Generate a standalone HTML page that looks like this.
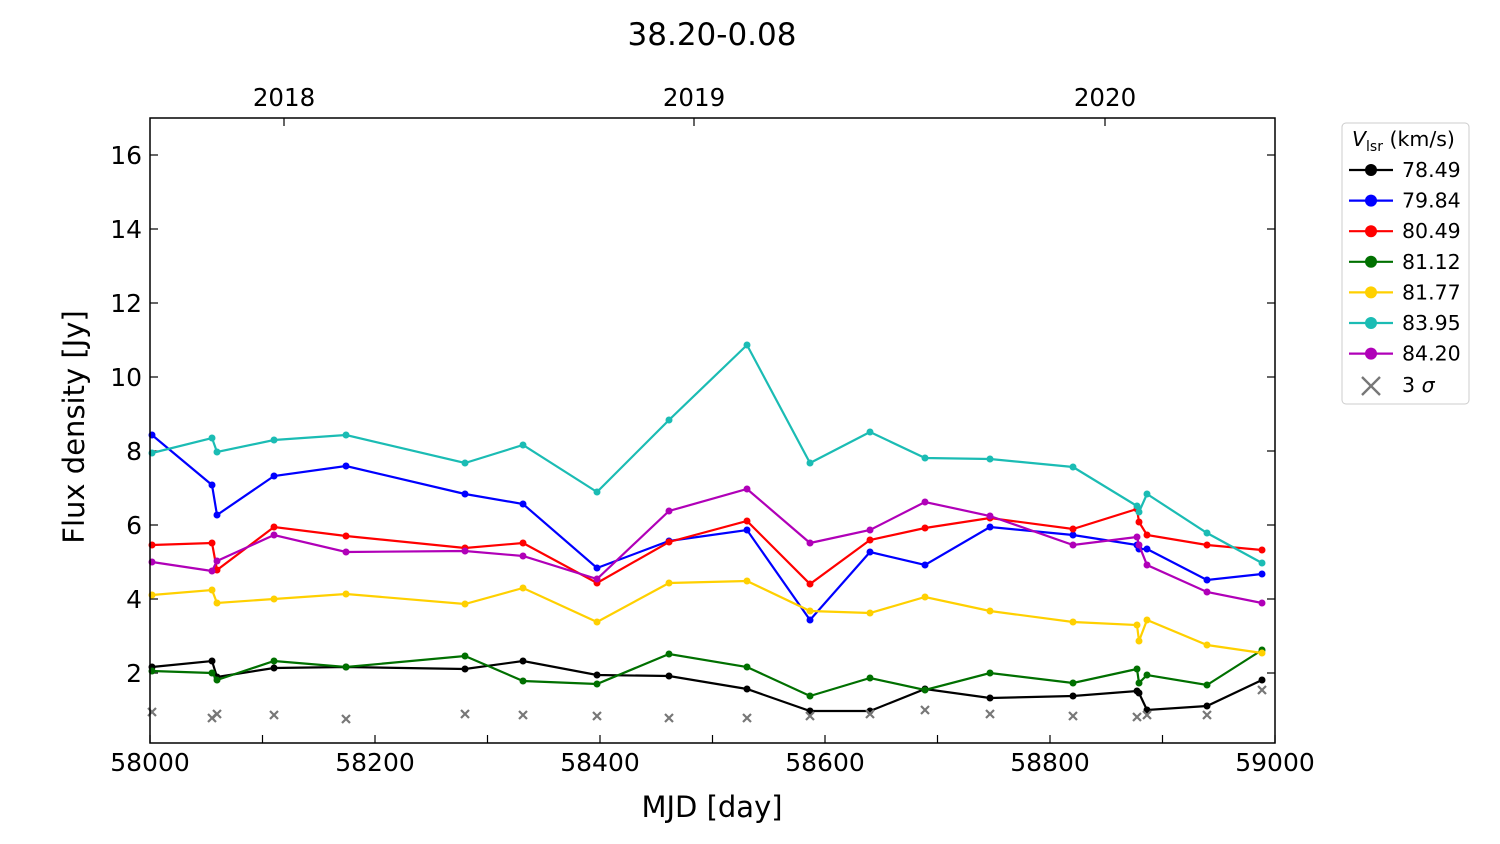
<!DOCTYPE html>
<html><head><meta charset="utf-8"><style>body{margin:0;background:#fff}svg{display:block}text{font-family:"DejaVu Sans","Liberation Sans",sans-serif;fill:#000}</style></head>
<body>
<svg id="s" width="1500" height="844" xmlns="http://www.w3.org/2000/svg">
<text x="712" y="45" font-size="31" text-anchor="middle">38.20-0.08</text>
<g id="ax"></g>
<g id="data" stroke-width="2.2" fill="none"></g>
<rect x="150" y="118" width="1125" height="625" fill="none" stroke="#000" stroke-width="1.5"/>
<text x="712" y="817" font-size="29" text-anchor="middle">MJD [day]</text>
<text transform="translate(84,427) rotate(-90)" font-size="29" text-anchor="middle">Flux density [Jy]</text>
<g font-size="24.5" text-anchor="middle">
<text x="284" y="106">2018</text><text x="694" y="106">2019</text><text x="1105" y="106">2020</text>
</g>
<rect x="1342" y="123" width="127" height="281" rx="4" fill="#fff" stroke="#ccc"/>
<g id="leg" font-size="20.5"></g>
</svg>
<script>
const ns="http://www.w3.org/2000/svg";
function el(p,t,a,txt){const e=document.createElementNS(ns,t);for(const k in a)e.setAttribute(k,a[k]);if(txt)e.textContent=txt;p.appendChild(e);return e;}
const ax=document.getElementById('ax');
for(let v=58000;v<=59000;v+=100){const x=150+(v-58000)*1.125;
el(ax,'line',{x1:x,x2:x,y1:743,y2:735,stroke:'#000','stroke-width':1.2});
if(v%200==0)el(ax,'text',{x:x,y:771,'font-size':25,'text-anchor':'middle'},String(v));}
for(let v=2;v<=16;v+=2){const y=747-v*37;
el(ax,'line',{x1:150,x2:158,y1:y,y2:y,stroke:'#000','stroke-width':1.2});
el(ax,'line',{x1:1275,x2:1267,y1:y,y2:y,stroke:'#000','stroke-width':1.2});
el(ax,'text',{x:142,y:y+9,'font-size':25,'text-anchor':'end'},String(v));}
[284,694,1105].forEach(x=>el(ax,'line',{x1:x,x2:x,y1:118,y2:126,stroke:'#000','stroke-width':1.2}));
const X=[152,212,217,274,346,465,523,597,669,747,810,870,925,990,1073,1137,1139,1147,1207,1262];
const S=[
['#000',[667,661,677,668,667,669,661,675,676,689,711,711,689,698,696,691,693,710,706,680],'78.49'],
['#00f',[435,485,515,476,466,494,504,568,541,530,620,552,565,527,535,545,549,549,580,574],'79.84'],
['#f00',[545,543,570,527,536,548,543,583,542,521,584,540,528,518,529,509,522,535,545,550],'80.49'],
['#007000',[671,673,680,661,667,656,681,684,654,667,696,678,690,673,683,669,683,675,685,650],'81.12'],
['#ffd000',[595,590,603,599,594,604,588,622,583,581,611,613,597,611,622,625,641,620,645,653],'81.77'],
['#1bbcb4',[453,438,452,440,435,463,445,492,420,345,463,432,458,459,467,506,512,494,533,563],'83.95'],
['#b000b8',[562,571,561,535,552,551,556,579,511,489,543,530,502,516,545,537,545,565,592,603],'84.20']];
const d=document.getElementById('data'),lg=document.getElementById('leg');
S.forEach((s,i)=>{el(d,'polyline',{points:X.map((x,j)=>x+','+s[1][j]).join(' '),stroke:s[0]});
X.forEach((x,j)=>el(d,'circle',{cx:x,cy:s[1][j],r:3.5,fill:s[0],stroke:'none'}));
const y=170+i*30.6;el(lg,'line',{x1:1349,x2:1393,y1:y,y2:y,stroke:s[0],'stroke-width':2.2});
el(lg,'circle',{cx:1371,cy:y,r:6,fill:s[0]});el(lg,'text',{x:1402,y:y+7},s[2]);});
const C=[[152,712],[212,718],[217,714],[274,715],[346,719],[465,714],[523,715],[597,716],[669,718],[747,718],[810,716],[870,714],[925,710],[990,714],[1073,716],[1137,717],[1147,715],[1207,715],[1262,690]];
C.forEach(([x,y])=>el(d,'path',{d:`M${x-4},${y-4}L${x+4},${y+4}M${x-4},${y+4}L${x+4},${y-4}`,stroke:'#777','stroke-width':2.2}));
el(lg,'path',{d:'M1362,377L1380,395M1362,395L1380,377',stroke:'#777','stroke-width':2.4});
el(lg,'text',{x:1402,y:392},'3 ').appendChild(Object.assign(document.createElementNS(ns,'tspan'),{textContent:'σ'})).setAttribute('font-style','italic');
const t=el(lg,'text',{x:1352,y:146});
const a=document.createElementNS(ns,'tspan');a.textContent='V';a.setAttribute('font-style','italic');t.appendChild(a);
const b=document.createElementNS(ns,'tspan');b.textContent='lsr';b.setAttribute('font-size','14');b.setAttribute('dy','5');t.appendChild(b);
const c=document.createElementNS(ns,'tspan');c.textContent=' (km/s)';c.setAttribute('dy','-5');t.appendChild(c);
</script>
</body></html>
